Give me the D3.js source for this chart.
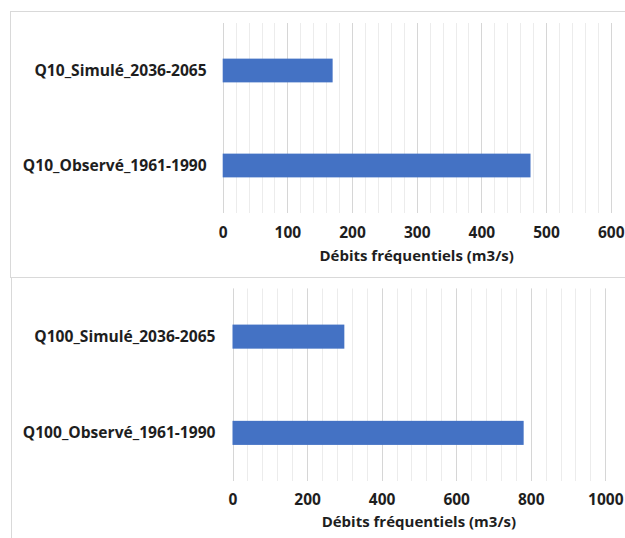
<!DOCTYPE html>
<html>
<head>
<meta charset="utf-8">
<script src="https://cdn.jsdelivr.net/npm/d3@7"></script>
<style>
  html, body { margin: 0; padding: 0; background: #fff; }
  svg { display: block; }
  text { font-family: "Open Sans", Lato, sans-serif; font-weight: 700; fill: #1e1e1e; }
</style>
</head>
<body>
<svg id="chart" width="625" height="538"></svg>
<script>
// Return-period flows (m3/s): observed vs simulated
const categoriesQ10 = ["Q10_Simulé_2036-2065", "Q10_Observé_1961-1990"];
const valuesQ10 = [170, 476];
const ticksQ10 = [0, 100, 200, 300, 400, 500, 600];

const categoriesQ100 = ["Q100_Simulé_2036-2065", "Q100_Observé_1961-1990"];
const valuesQ100 = [300, 781];
const ticksQ100 = [0, 200, 400, 600, 800, 1000];

const axisTitle = "Débits fréquentiels (m3/s)";

const svg = d3.select("#chart");
const barColor = "#4472C4";

function panel(cfg) {
  const g = svg.append("g");
  // panel frame
  g.append("rect")
    .attr("x", cfg.frame[0] + 0.5).attr("y", cfg.frame[1] + 0.5)
    .attr("width", cfg.frame[2]).attr("height", cfg.frame[3])
    .attr("fill", "#fff").attr("stroke", "#d9d9d9").attr("stroke-width", 1);

  const x = d3.scaleLinear().domain(cfg.domain).range([cfg.left, cfg.right]);
  const y = d3.scaleBand().domain(cfg.categories).range([cfg.top, cfg.bottom]).paddingInner(0.75).paddingOuter(0.375);

  // minor gridlines
  g.append("g").selectAll("line").data(cfg.minor).join("line")
    .attr("x1", d => Math.round(x(d)) + 0.5).attr("x2", d => Math.round(x(d)) + 0.5)
    .attr("y1", cfg.top).attr("y2", cfg.bottom)
    .attr("stroke", "#ececec").attr("stroke-width", 1);
  // major gridlines
  g.append("g").selectAll("line").data(cfg.ticks).join("line")
    .attr("x1", d => Math.round(x(d)) + 0.5).attr("x2", d => Math.round(x(d)) + 0.5)
    .attr("y1", cfg.top).attr("y2", cfg.bottom)
    .attr("stroke", "#d6d6d6").attr("stroke-width", 1);

  // bars
  g.append("g").selectAll("rect").data(cfg.values).join("rect")
    .attr("x", x(0))
    .attr("y", (d, i) => y(cfg.categories[i]))
    .attr("width", d => x(d) - x(0))
    .attr("height", y.bandwidth())
    .attr("fill", barColor);

  // category labels
  g.append("g").selectAll("text").data(cfg.categories).join("text")
    .attr("x", cfg.left - cfg.labelGap)
    .attr("y", d => y(d) + y.bandwidth() / 2)
    .attr("dy", "0.35em")
    .attr("text-anchor", "end")
    .style("font-size", "15.6px")
    .text(d => d);

  // value axis
  const axis = d3.axisBottom(x).tickValues(cfg.ticks).tickSize(0).tickPadding(0).tickFormat(d3.format("d"));
  const ag = g.append("g").attr("transform", `translate(0,${cfg.tickY})`).call(axis);
  ag.select(".domain").remove();
  ag.selectAll("text").attr("dy", "0.35em").attr("y", 0)
    .style("font-size", "15.5px").style("font-family", "'Open Sans', sans-serif").attr("fill", "#1e1e1e");

  g.append("text")
    .attr("x", (cfg.left + cfg.right) / 2)
    .attr("y", cfg.titleY)
    .attr("dy", "0.35em")
    .attr("text-anchor", "middle")
    .style("font-size", "15px")
    .text(axisTitle);
}

panel({
  frame: [10, 11, 640, 266],
  domain: [0, 600], left: 222.7, right: 610.7, top: 23, bottom: 213,
  categories: categoriesQ10, values: valuesQ10, ticks: ticksQ10,
  minor: d3.range(0, 601, 20), labelGap: 16, tickY: 233, titleY: 256
});

panel({
  frame: [11, 277, 640, 280],
  domain: [0, 1000], left: 232.5, right: 605.3, top: 288.5, bottom: 481,
  categories: categoriesQ100, values: valuesQ100, ticks: ticksQ100,
  minor: d3.range(0, 1001, 40), labelGap: 17, tickY: 500, titleY: 522
});
</script>
</body>
</html>
